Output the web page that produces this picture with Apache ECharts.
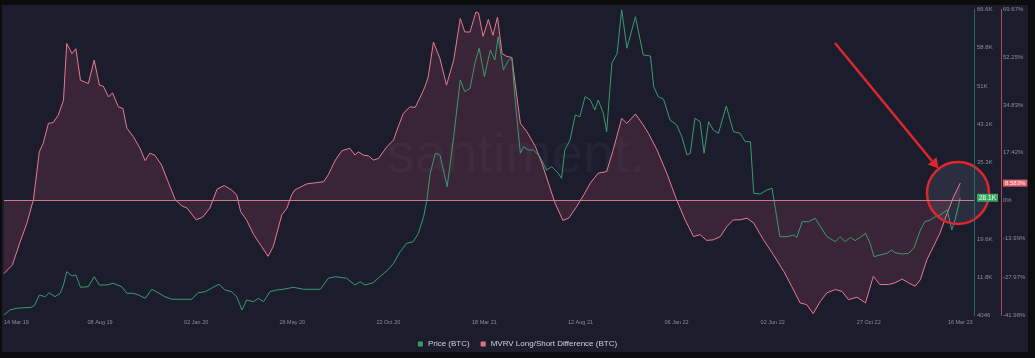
<!DOCTYPE html>
<html><head><meta charset="utf-8">
<script src="https://cdn.jsdelivr.net/npm/echarts@6/dist/echarts.min.js"></script>
<style>
html,body{margin:0;padding:0;background:#0c0c0e;width:1035px;height:358px;overflow:hidden;}
#panel{position:absolute;left:2px;top:5px;width:1026px;height:347px;background:#1b1d2d;}
#chart{position:absolute;left:0;top:0;width:1035px;height:358px;}
</style></head><body>
<div id="panel"></div><div id="chart"></div>
<script>
// ---- X axis (days since 14 Mar 2019) ----
const xTickDays = [0,147,294,441,588,735,882,1029,1176,1323,1463];
const xTickLabels = ['14 Mar 19','08 Aug 19','02 Jan 20','26 May 20','22 Oct 20','18 Mar 21','12 Aug 21','06 Jan 22','02 Jun 22','27 Oct 22','16 Mar 23'];

// ---- MVRV Long/Short Difference (%) ----
const mvrvDays = [0,13,24,35,45,54,60,68,75,83,91,96,104,110,117,129,138,146,152,160,166,175,182,188,198,208,216,223,231,241,251,262,272,280,294,304,315,326,337,348,356,362,371,382,394,404,412,425,433,440,445,463,489,496,507,517,529,537,542,550,558,565,573,586,596,603,611,621,629,637,644,649,657,667,677,688,698,705,713,722,726,733,741,748,755,762,769,777,782,790,800,813,823,833,843,855,864,876,887,897,909,922,932,945,953,966,978,986,999,1014,1029,1042,1055,1065,1075,1085,1096,1106,1116,1126,1137,1147,1162,1177,1193,1205,1218,1228,1238,1249,1259,1272,1282,1292,1305,1318,1330,1340,1353,1363,1374,1384,1394,1402,1412,1422,1432,1443,1453,1463];
const mvrvValues = [-26.7,-23.5,-15.6,-8.3,0.2,17.7,20.8,28.1,28.3,31.1,36.5,57.2,53.5,55.3,43.8,42.6,51.1,42.0,41.6,37.7,39.2,34.1,33.5,26.3,23.2,19.0,14.5,17.2,16.4,12.9,6.8,0.2,-2.0,-2.8,-7.1,-6.1,-2.8,4.1,5.4,3.8,2.0,-4.1,-7.1,-12.5,-16.8,-20.4,-16.8,-5.3,-2.8,2.0,3.8,6.0,6.8,9.3,14.7,18.1,19.0,16.5,17.7,16.5,16.2,14.7,15.3,19.6,22.0,26.8,31.7,34.1,33.9,37.7,41.4,45.0,57.7,51.7,42.0,51.1,66.3,61.4,61.4,68.7,68.3,59.8,66.0,60.2,66.8,53.5,52.5,52.1,42.6,28.1,25.0,19.6,13.5,6.3,-1.0,-7.3,-6.5,-2.3,2.0,6.3,9.9,10.5,18.4,29.9,28.1,31.5,27.5,24.4,18.4,9.9,0.2,-7.1,-13.2,-12.5,-14.6,-14.4,-13.2,-9.5,-7.1,-7.1,-6.5,-8.3,-14.4,-19.8,-25.9,-31.3,-37.4,-38.0,-41.3,-36.8,-33.7,-32.5,-33.2,-36.2,-35.3,-37.4,-27.7,-30.7,-30.7,-30.1,-28.7,-30.1,-31.3,-28.9,-21.6,-16.8,-11.9,-4.7,1.4,6.3];
const mvrvTickValues = [69.67,52.25,34.83,17.42,0,-13.99,-27.97,-41.98];
const mvrvTickLabels = ['69.67%','52.25%','34.83%','17.42%','0%','-13.99%','-27.97%','-41.98%'];
const mvrvCurrentLabel = '8.583%';

// ---- Price (BTC, USD) ----
const priceDays = [0,9,19,42,47,54,63,69,78,86,91,96,104,110,117,129,138,146,157,167,180,188,198,206,216,226,236,246,257,272,287,297,308,320,329,338,348,356,364,369,371,382,389,397,407,417,427,443,458,484,496,507,524,537,545,552,565,575,586,596,606,616,626,634,642,647,652,660,667,678,688,698,705,713,721,727,735,744,751,756,764,772,777,782,790,795,802,810,820,830,838,848,853,858,866,874,881,889,897,904,909,917,922,930,938,945,953,966,978,989,994,1001,1009,1019,1029,1037,1045,1050,1057,1065,1071,1078,1085,1093,1105,1116,1126,1134,1142,1147,1157,1167,1175,1180,1187,1198,1208,1213,1221,1231,1241,1249,1259,1272,1279,1287,1295,1302,1310,1318,1325,1331,1340,1351,1358,1363,1374,1384,1392,1402,1409,1417,1425,1432,1443,1450,1455,1463];
const priceValues = [4150,5170,5520,5720,6190,8230,7890,8700,7890,8580,10280,12990,12120,12320,9810,9930,11970,10280,10280,10620,9930,8580,8580,8230,7560,9400,8700,7890,7360,7360,7360,8700,8910,9810,10420,9260,8910,7890,5170,6540,7210,6870,7560,6870,8910,9260,9400,9810,9400,9400,11650,11970,11650,10280,10950,10280,10750,11970,13200,14710,17080,18800,19120,20840,24230,27640,33100,37180,36840,30360,40580,52160,49770,50460,55900,58640,52830,58290,56250,61000,54200,56250,56590,48070,37180,38530,37860,37860,36490,33770,34450,33100,32080,37860,39900,45010,44660,48750,48070,46030,48070,45360,41600,55570,57610,66500,58640,65090,57270,57060,50790,48750,48220,43990,42970,40580,36840,37180,44330,43640,37180,43640,41940,41270,46850,41600,41270,39550,39550,29010,28870,29690,30030,25950,20150,20150,20490,20020,23210,23210,23900,22190,20150,19120,20150,19120,20020,19330,20020,20840,18800,16060,16410,16750,17430,16880,16610,16750,17780,21510,23210,23560,24230,24580,25600,21510,23560,28100];
const priceTickValues = [4046,11865,19684,35322,43141,50960,58779,66600];
const priceTickLabels = ['4046','11.8K','19.6K','35.3K','43.1K','51K','58.8K','66.6K'];
const priceCurrentLabel = '28.1K';

const FONT = "'Liberation Sans', Arial, sans-serif";
const mvrvData = mvrvDays.map((d, i) => [d, mvrvValues[i]]);
const priceData = priceDays.map((d, i) => [d, priceValues[i]]);
const lastPrice = priceValues[priceValues.length - 1];
const lastMvrv = mvrvValues[mvrvValues.length - 1];

const chart = echarts.init(document.getElementById('chart'), null, {renderer: 'canvas'});
const axisLabelBase = {color: '#8a8d9c', fontSize: 6, fontFamily: FONT};

chart.setOption({
  animation: false,
  backgroundColor: 'transparent',
  grid: {left: 4, right: 61, top: 9.3, bottom: 42.5, containLabel: false, outerBoundsMode: 'none'},
  legend: {
    top: 335, left: 'center', itemWidth: 5, itemHeight: 5, itemGap: 11, icon: 'rect',
    textStyle: {color: '#cfd1d8', fontSize: 8, fontFamily: FONT},
    data: [
      {name: 'Price (BTC)', itemStyle: {color: '#3a9a68'}},
      {name: 'MVRV Long/Short Difference (BTC)', itemStyle: {color: '#e0707f'}}
    ]
  },
  xAxis: {
    type: 'value', min: 0, max: 1484,
    axisLine: {show: false}, axisTick: {show: false}, splitLine: {show: false},
    axisLabel: Object.assign({}, axisLabelBase, {
      fontSize: 5.5, margin: 4, alignMinLabel: 'left',
      customValues: xTickDays,
      formatter: v => xTickLabels[xTickDays.indexOf(v)]
    })
  },
  yAxis: [
    {
      type: 'value', position: 'right', offset: 0, min: 4046, max: 66600, z: 20,
      axisLine: {show: true, onZero: false, lineStyle: {color: '#2c6a60', width: 1}},
      axisTick: {show: false}, splitLine: {show: false},
      axisLabel: Object.assign({}, axisLabelBase, {
        margin: 3,
        customValues: priceTickValues.concat([lastPrice]),
        formatter: v => v === lastPrice ? '{cur|' + priceCurrentLabel + '}' : priceTickLabels[priceTickValues.indexOf(v)],
        rich: {cur: {backgroundColor: '#3aa863', color: '#eafff0', fontSize: 6.5, padding: [1, 2, 0, 2], fontFamily: FONT}}
      })
    },
    {
      type: 'value', position: 'right', offset: 27, min: -41.98, max: 69.67, z: 20,
      axisLine: {show: true, onZero: false, lineStyle: {color: '#a84a5c', width: 1}},
      axisTick: {show: false}, splitLine: {show: false},
      axisLabel: Object.assign({}, axisLabelBase, {
        margin: 2,
        customValues: mvrvTickValues.concat([lastMvrv]),
        formatter: v => v === lastMvrv ? '{cur|' + mvrvCurrentLabel + '}' : mvrvTickLabels[mvrvTickValues.indexOf(v)],
        rich: {cur: {backgroundColor: '#e0636f', color: '#fff0f2', fontSize: 6, padding: [1, 2, 0, 2], fontFamily: FONT}}
      })
    }
  ],
  series: [
    {
      name: 'MVRV Long/Short Difference (BTC)', type: 'line', yAxisIndex: 1,
      data: mvrvData, showSymbol: false, symbol: 'none', silent: true, z: 2,
      lineStyle: {color: '#e87a8f', width: 1},
      itemStyle: {color: '#e0707f'},
      areaStyle: {color: 'rgba(195,80,105,0.26)'},
      markLine: {
        silent: true, symbol: 'none', label: {show: false},
        lineStyle: {color: '#cf7888', width: 1, type: 'solid'},
        data: [{yAxis: 0}]
      }
    },
    {
      name: 'Price (BTC)', type: 'line', yAxisIndex: 0,
      data: priceData, showSymbol: false, symbol: 'none', silent: true, z: 3,
      lineStyle: {color: '#3b9a6c', width: 1},
      itemStyle: {color: '#3a9a68'}
    }
  ],
  graphic: [
    {
      type: 'text', x: 516, y: 157, z: 1, silent: true,
      style: {text: 'santiment.', fill: 'rgba(255,255,255,0.035)', font: '56px ' + FONT,
        align: 'center', verticalAlign: 'middle', textAlign: 'center', textVerticalAlign: 'middle'}
    },
    {
      type: 'circle', z: 5, silent: true,
      shape: {cx: 958, cy: 193, r: 31},
      style: {fill: 'rgba(190,200,225,0.10)', stroke: '#e0262c', lineWidth: 2.5}
    },
    {
      type: 'line', z: 5, silent: true,
      shape: {x1: 835, y1: 43, x2: 932, y2: 161},
      style: {stroke: '#e0262c', lineWidth: 2.5}
    },
    {
      type: 'polygon', z: 5, silent: true,
      shape: {points: [[938.5, 168.5], [927.8, 164.4], [936.6, 157.2]]},
      style: {fill: '#e0262c'}
    }
  ]
});
</script></body></html>
